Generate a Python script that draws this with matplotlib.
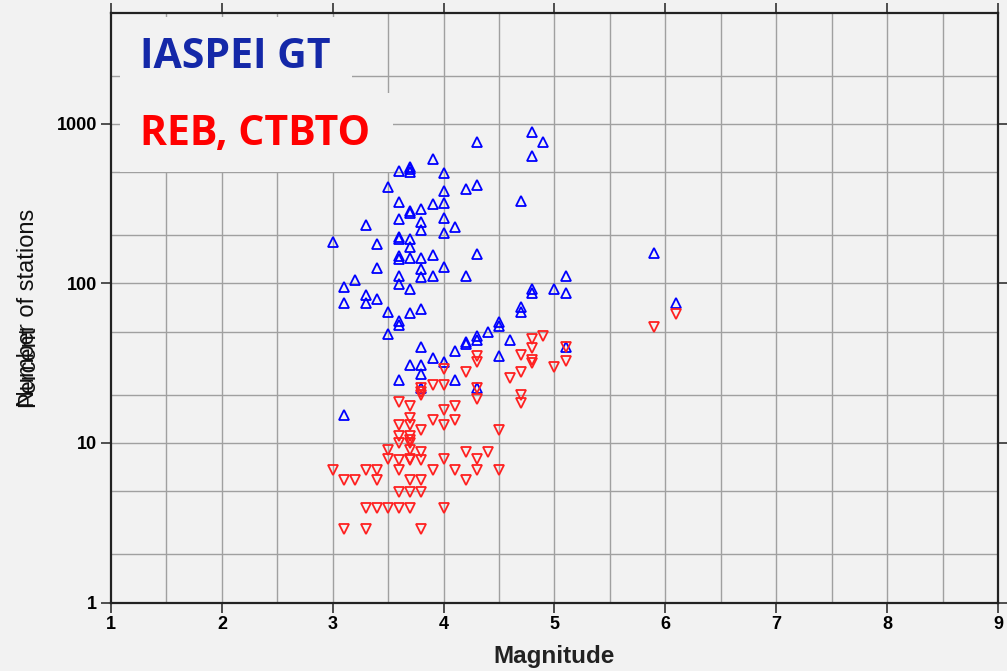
import matplotlib
matplotlib.use("Agg")
import matplotlib.pyplot as plt
from matplotlib.patches import Rectangle
from matplotlib.ticker import FixedLocator, NullFormatter, NullLocator

# ---- data: IASPEI GT (blue, up triangles) ----
gt_mag = [3.9, 3.6, 3.7, 3.7, 3.7, 4.0, 3.5, 4.2, 4.3, 4.0, 3.6, 4.0, 3.9, 3.8,
          3.7, 3.7, 3.6, 4.0, 3.8, 3.8, 3.3, 4.1, 4.0, 3.0, 3.4, 3.6, 3.6, 3.7,
          3.7, 3.6, 3.6, 3.7, 3.8, 3.9, 4.3, 3.4, 4.0, 3.8, 3.8, 3.9, 3.6, 4.2,
          3.6, 3.7, 3.2, 3.1, 3.3, 3.4, 3.1, 3.3, 3.5, 3.7, 3.8, 3.6, 3.6, 3.5,
          3.8, 3.9, 3.7, 3.8, 4.0, 4.1, 4.2, 4.2, 4.3, 4.3, 4.4, 3.8, 3.6, 4.1,
          3.8, 4.3, 3.1, 4.3, 4.8, 4.9, 4.8, 4.7, 5.1, 4.8, 4.8, 5.0, 5.1, 4.7,
          4.7, 4.5, 4.5, 4.6, 4.5, 5.1, 5.9, 6.1]
gt_sta = [600, 505, 540, 520, 500, 490, 405, 390, 413, 379, 326, 321, 314, 295,
          283, 275, 253, 259, 244, 216, 232, 226, 208, 182, 178, 196, 189, 189,
          169, 149, 143, 145, 145, 150, 154, 125, 127, 124, 110, 112, 112, 111,
          99, 92, 105, 95, 85, 80, 75, 75, 66, 65, 69, 58, 55, 48,
          40, 34, 31, 31, 32, 38, 43, 42, 47, 44, 50, 27, 25, 25,
          22, 22, 15, 774, 887, 767, 626, 330, 111, 92, 87, 93, 87, 71,
          66, 57, 54, 44, 35, 40, 156, 76]

# ---- data: REB, CTBTO (red, down triangles) ----
reb_mag = [4.9, 4.8, 4.8, 4.7, 4.8, 4.8, 5.0, 5.1, 5.1, 4.7, 4.6, 4.7, 4.7,
           4.3, 4.3, 4.2, 4.0, 3.9, 4.0, 3.8, 3.8, 4.3, 4.3, 4.5, 3.6, 3.7,
           4.0, 4.1, 3.7, 3.9, 4.1, 3.6, 3.7, 4.0, 3.8, 3.6, 3.7, 3.6, 3.7,
           3.7, 3.5, 3.7, 3.8, 4.2, 4.4, 3.5, 3.6, 3.7, 3.8, 4.0, 4.3, 3.0,
           3.3, 3.4, 3.6, 3.9, 4.1, 4.3, 4.5, 3.1, 3.2, 3.4, 3.7, 3.8, 4.2,
           3.6, 3.7, 3.8, 3.3, 3.4, 3.5, 3.6, 3.7, 4.0, 3.1, 3.3, 3.8, 5.9,
           6.1, 3.8, 3.7]
reb_sta = [47, 44.7, 39.5, 35.5, 33, 31.7, 30, 40, 32.5, 27.7, 25.7, 20, 17.8,
           35, 32, 28, 29, 23, 23, 21, 20, 22, 19, 12, 18, 17,
           16, 17, 14.3, 14, 14, 13, 13, 13, 12, 11, 11, 10, 10,
           9, 9.0, 7.9, 8.8, 8.8, 8.8, 7.9, 7.8, 7.8, 7.8, 7.9, 7.9, 6.8,
           6.8, 6.8, 6.8, 6.8, 6.8, 6.8, 6.8, 5.85, 5.85, 5.85, 5.9, 5.9, 5.9,
           4.9, 4.9, 4.9, 3.92, 3.92, 3.92, 3.92, 3.92, 3.92, 2.9, 2.9, 2.9, 53,
           64, 22, 10.5]

x_ticks = [1, 2, 3, 4, 5, 6, 7, 8, 9]
y_ticks = [1, 10, 100, 1000]
y_tick_labels = ["1", "10", "100", "1000"]
y_grid = [2, 5, 10, 20, 50, 100, 200, 500, 1000, 2000]
x_grid = [1.5, 2, 2.5, 3, 3.5, 4, 4.5, 5, 5.5, 6, 6.5, 7, 7.5, 8, 8.5]

BG = "#f2f2f2"
W, H = 1007, 671
fig = plt.figure(figsize=(W / 100, H / 100), dpi=100, facecolor=BG)
ax = fig.add_axes([111 / W, (H - 602.5) / H, 887 / W, 590 / H], facecolor=BG)

ax.set_xscale("linear")
ax.set_yscale("log")
ax.set_xlim(1, 9)
ax.set_ylim(1, 5000)

for xv in x_grid:
    ax.axvline(xv, color="#a0a0a0", lw=1.0, zorder=1)
for yv in y_grid:
    ax.axhline(yv, color="#a0a0a0", lw=1.0, zorder=1)

ax.plot(gt_mag, gt_sta, linestyle="none", marker="^", markersize=7.5,
        markerfacecolor="none", markeredgecolor="#0000ff", markeredgewidth=1.3, zorder=4)
ax.plot(reb_mag, reb_sta, linestyle="none", marker="v", markersize=7.5,
        markerfacecolor="none", markeredgecolor="#ff2020", markeredgewidth=1.3, zorder=4)

ax.xaxis.set_major_locator(FixedLocator(x_ticks))
ax.yaxis.set_major_locator(FixedLocator(y_ticks))
ax.yaxis.set_minor_locator(NullLocator())
ax.yaxis.set_minor_formatter(NullFormatter())
ax.set_yticklabels(y_tick_labels)
ax.tick_params(axis="both", which="major", direction="out", length=7, width=1.2,
               color="#333333", labelsize=13, pad=3,
               top=True, right=True, labeltop=False, labelright=False)
for lab in ax.get_xticklabels() + ax.get_yticklabels():
    lab.set_fontweight("bold")
    lab.set_family("Liberation Sans")

for s in ax.spines.values():
    s.set_color("#222222")
    s.set_linewidth(1.6)

ax.set_xlabel("Magnitude", fontsize=17.5, fontweight="bold", family="Liberation Sans",
              color="#222222", va="center")
ax.xaxis.set_label_coords(0.5, (602.5 - 657) / 590)

# overlapping y labels (as in the original figure)
fig.text(28 / W, (H - 407) / H, "Number of stations", rotation=90, ha="center", va="bottom",
         fontsize=17, family="Liberation Sans", color="#111111")
fig.text(28 / W, (H - 407) / H, "Percent", rotation=90, ha="center", va="bottom",
         fontsize=17, family="Liberation Sans", color="#111111")

# legend boxes in figure pixel coords
fig.add_artist(Rectangle((120 / W, (H - 93) / H), (352 - 120) / W, (93 - 17) / H,
                         transform=fig.transFigure, facecolor=BG, edgecolor="none", zorder=5))
fig.add_artist(Rectangle((120 / W, (H - 172) / H), (393 - 120) / W, (172 - 93) / H,
                         transform=fig.transFigure, facecolor=BG, edgecolor="none", zorder=5))
fig.text(140 / W, (H - 58) / H, "IASPEI GT", ha="left", va="center", fontsize=29.5,
         fontweight="bold", family="Open Sans", color="#1428a8", zorder=6)
fig.text(140 / W, (H - 135) / H, "REB, CTBTO", ha="left", va="center", fontsize=29.5,
         fontweight="bold", family="Open Sans", color="#ff0000", zorder=6)

fig.savefig("out.png", dpi=100, facecolor=BG)
